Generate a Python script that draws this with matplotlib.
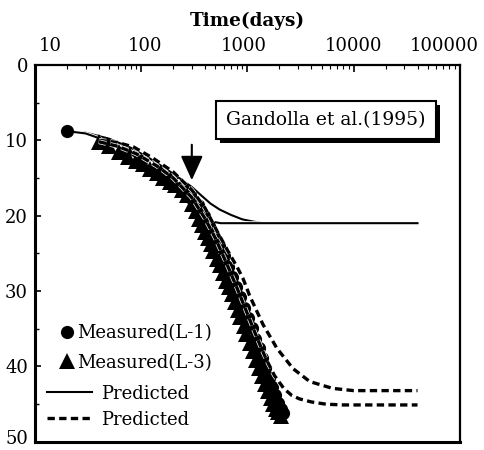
import matplotlib
matplotlib.use('Agg')
import matplotlib.pyplot as plt
import matplotlib.patheffects as pe
import matplotlib.transforms as mtransforms
from matplotlib.lines import Line2D
from matplotlib.patches import FancyArrowPatch

plt.rcParams['font.family'] = ['DejaVu Serif']

# measured settlement, L-1 (circles)
t_l1 = [20, 45, 70, 100, 140, 190, 240, 290, 340, 390, 440, 490, 540, 600, 660, 720, 790,
        860, 940, 1020, 1100, 1190, 1280, 1380, 1480, 1590, 1700, 1820, 1940, 2060, 2180]
s_l1 = [8.8, 10.4, 11.6, 12.8, 14.0, 15.2, 16.2, 17.2, 18.6, 20.0, 21.4, 22.8, 24.0, 25.4, 26.8,
        28.1, 29.4, 30.8, 32.2, 33.6, 34.9, 36.3, 37.6, 38.9, 40.2, 41.5, 42.7, 43.8, 44.8, 45.6, 46.2]

# measured settlement, L-3 (triangles)
t_l3 = [40, 50, 62, 75, 90, 105, 120, 140, 160, 185, 210, 240, 270, 300, 325, 350, 375, 400,
        425, 450, 480, 515, 550, 590, 630, 670, 710, 760, 810, 860, 920, 980, 1050, 1120, 1200,
        1280, 1370, 1460, 1560, 1660, 1760, 1860, 1960, 2060]
s_l3 = [10.2, 10.8, 11.5, 12.2, 12.8, 13.2, 13.8, 14.4, 15.0, 15.5, 16.0, 16.6, 17.3, 18.4, 19.4,
        20.4, 21.3, 22.2, 23.0, 23.8, 24.7, 25.7, 26.6, 27.6, 28.6, 29.5, 30.4, 31.4, 32.5, 33.5,
        34.6, 35.7, 36.9, 38.0, 39.1, 40.2, 41.3, 42.3, 43.3, 44.2, 45.0, 45.6, 46.1, 46.5]

# predicted (solid)
t_pa = [20, 30, 50, 80, 120, 180, 250, 300, 360, 450, 550, 700, 900, 1150, 1400, 1800, 2500, 40000]
s_pa = [8.8, 9.0, 9.8, 11.0, 12.4, 14.0, 15.4, 16.2, 17.2, 18.4, 19.2, 19.9, 20.5, 20.8, 21.0, 21.0, 21.0, 21.0]
t_pb = [20, 30, 50, 80, 120, 160, 220, 300, 380, 470, 560, 700, 40000]
s_pb = [8.8, 9.1, 10.2, 11.8, 13.6, 15.0, 16.8, 18.8, 20.1, 20.8, 21.0, 21.0, 21.0]

# predicted (dashed)
t_da = [40, 60, 85, 130, 200, 300, 400, 516, 650, 800, 908, 1050, 1400, 1900, 2700, 3870, 6330, 10000, 40000]
s_da = [10.0, 10.3, 10.9, 12.4, 14.2, 16.6, 19.0, 22.0, 24.6, 26.8, 28.3, 30.6, 34.4, 37.6, 40.3, 42.0, 42.9, 43.2, 43.2]
t_db = [40, 60, 90, 140, 200, 300, 400, 500, 650, 800, 1000, 1250, 1500, 1800, 2200, 2600, 3100, 4000, 5500, 8000, 40000]
s_db = [10.2, 10.8, 11.8, 13.4, 15.0, 17.6, 20.4, 23.0, 26.6, 29.6, 33.0, 36.4, 39.0, 41.2, 42.9, 43.8, 44.3, 44.7, 45.0, 45.1, 45.1]

xticks = [10, 100, 1000, 10000, 100000]
xtick_labels = ['10', '100', '1000', '10000', '100000']

fig = plt.figure(figsize=(4.85, 4.5), dpi=100)
ax = fig.add_axes([0.072, 0.018, 0.876, 0.838])

halo_s = [pe.Stroke(linewidth=2.8, foreground='white'), pe.Normal()]
halo_d = [pe.Stroke(linewidth=3.4, foreground='white'), pe.Normal()]
ax.plot(t_pa, s_pa, '-', color='k', lw=1.5, path_effects=halo_s, zorder=2)
ax.plot(t_pb, s_pb, '-', color='k', lw=1.5, path_effects=halo_s, zorder=2)

ax.plot(t_l3, s_l3, ls='none', marker='^', ms=11, color='k', mew=0, zorder=3)
ax.plot(t_l1, s_l1, ls='none', marker='o', ms=9.5, color='k', mew=0, zorder=3)

ax.plot(t_da, s_da, color='k', lw=2.4, dashes=(2.2, 1.3), path_effects=halo_d, zorder=4)
ax.plot(t_db, s_db, color='k', lw=2.4, dashes=(2.2, 1.3), path_effects=halo_d, zorder=4)

ax.set_xscale('log')
ax.set_xlim(10, 100000)
ax.set_ylim(50, 0)

ax.xaxis.tick_top()
ax.xaxis.set_label_position('top')
ax.set_xticks(xticks)
ax.set_xticklabels(xtick_labels)
ax.set_xlabel('Time(days)', fontsize=13.2, fontweight='bold', labelpad=8)
ax.tick_params(axis='x', which='both', direction='in', top=True, bottom=False,
               labeltop=True, labelbottom=False, labelsize=13, pad=7)
ax.tick_params(axis='x', which='major', length=5, width=1.2)
ax.tick_params(axis='x', which='minor', length=3, width=0.8)

ax.set_yticks(range(0, 51, 10))
ax.set_yticks(range(5, 50, 10), minor=True)
ax.tick_params(axis='y', which='both', direction='in', left=True, right=False,
               labelsize=13, pad=5)
ax.tick_params(axis='y', which='major', length=4, width=1.2)
ax.tick_params(axis='y', which='minor', length=3, width=1.0)

for side, w in [('left', 2.2), ('bottom', 2.2), ('top', 1.6), ('right', 1.6)]:
    ax.spines[side].set_linewidth(w)

# nudge tick labels like in the printed figure
offsets = [15, 4, -4, 0, -16]
for lab, dx in zip(ax.get_xticklabels(), offsets):
    lab.set_transform(lab.get_transform() + mtransforms.ScaledTranslation(dx / 100, 0, fig.dpi_scale_trans))
ylabs = ax.get_yticklabels()
ylabs[-1].set_transform(ylabs[-1].get_transform() + mtransforms.ScaledTranslation(0, 0.05, fig.dpi_scale_trans))

# arrow
arr = FancyArrowPatch((300, 10.6), (300, 15.3), arrowstyle='-|>,head_length=0.75,head_width=0.34',
                      mutation_scale=20, color='k', lw=1.5, shrinkA=0, shrinkB=0, zorder=5)
ax.add_patch(arr)

# reference box with shadow
txt = ax.text(0.685, 0.854, 'Gandolla et al.(1995)', transform=ax.transAxes, ha='center', va='center',
              fontsize=13.5, bbox=dict(boxstyle='square,pad=0.55', fc='white', ec='black', lw=1.5), zorder=6)
txt.get_bbox_patch().set_path_effects([pe.withSimplePatchShadow(offset=(3, -3), shadow_rgbFace='k', alpha=1)])

# legends
h1 = [Line2D([], [], ls='none', marker='o', ms=9.5, color='k', mew=0),
      Line2D([], [], ls='none', marker='^', ms=11, color='k', mew=0)]
leg1 = ax.legend(h1, ['Measured(L-1)', 'Measured(L-3)'], loc='upper left', bbox_to_anchor=(0.06, 0.313),
                 frameon=False, fontsize=13, handlelength=0.75, handletextpad=0.2, labelspacing=0.65,
                 borderpad=0, borderaxespad=0)
ax.add_artist(leg1)
h2 = [Line2D([], [], ls='-', color='k', lw=1.5),
      Line2D([], [], color='k', lw=2.4, dashes=(2.2, 1.3))]
ax.legend(h2, ['Predicted', 'Predicted'], loc='upper left', bbox_to_anchor=(0.028, 0.152),
          frameon=False, fontsize=13, handlelength=2.5, handletextpad=0.5, labelspacing=0.45,
          borderpad=0, borderaxespad=0)

fig.savefig('out.png', dpi=100)
